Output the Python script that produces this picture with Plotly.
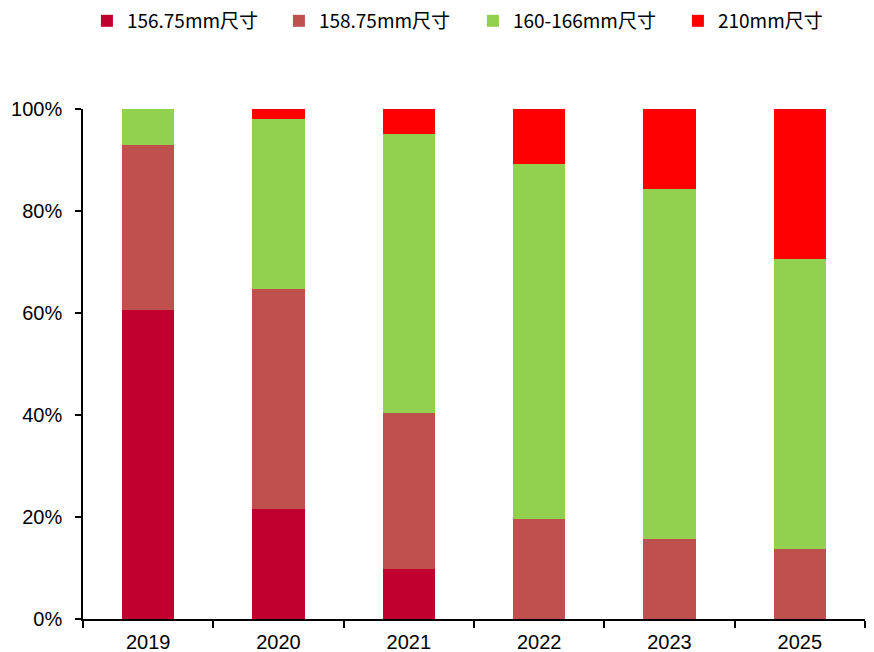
import plotly.graph_objects as go

years = ["2019", "2020", "2021", "2022", "2023", "2025"]
s15675 = [60.6, 21.6, 9.8, 0, 0, 0]
s15875 = [32.3, 43.1, 30.6, 19.6, 15.7, 13.7]
s160166 = [7.1, 33.3, 54.7, 69.6, 68.6, 56.9]
s210 = [0, 2.0, 4.9, 10.8, 15.7, 29.4]

names = ["156.75mm尺寸", "158.75mm尺寸", "160-166mm尺寸", "210mm尺寸"]
colors = ["#C0002F", "#C0504D", "#92D050", "#FF0000"]
series = [s15675, s15875, s160166, s210]
legend_widths = [147, 149, 160, 130]

fig = go.Figure()
for n, c, s, lw in zip(names, colors, series, legend_widths):
    fig.add_trace(go.Bar(x=years, y=[v / 100 for v in s], name=n, legendwidth=lw,
                         marker=dict(color=c, line=dict(width=0)), width=0.4))

fig.update_layout(
    barmode="stack",
    width=874, height=652,
    margin=dict(l=83, r=9, t=109, b=33, autoexpand=False),
    plot_bgcolor="white", paper_bgcolor="white",
    font=dict(family="Liberation Sans, Arial", size=20, color="black"),
    legend=dict(orientation="h", x=0.005, xanchor="left", y=0.997, yanchor="top", yref="container",
                font=dict(family="Noto Sans CJK SC", size=19), traceorder="normal",
                itemwidth=30),
    showlegend=True,
    xaxis=dict(type="category", showline=True, linecolor="black", linewidth=1.5, ticks="outside",
               tickson="boundaries", ticklen=7, tickcolor="black", tickwidth=1.5, showgrid=False,
               tickfont=dict(size=20), automargin=False, ticklabelstandoff=4),
    yaxis=dict(range=[0, 1], tickformat=".0%", dtick=0.2, showline=True, linecolor="black", linewidth=1.5,
               ticks="outside", ticklen=6, tickcolor="black", tickwidth=1.5, showgrid=False, zeroline=False,
               tickfont=dict(size=20), automargin=False, ticklabelstandoff=9),
)
fig.write_html("out.html")
